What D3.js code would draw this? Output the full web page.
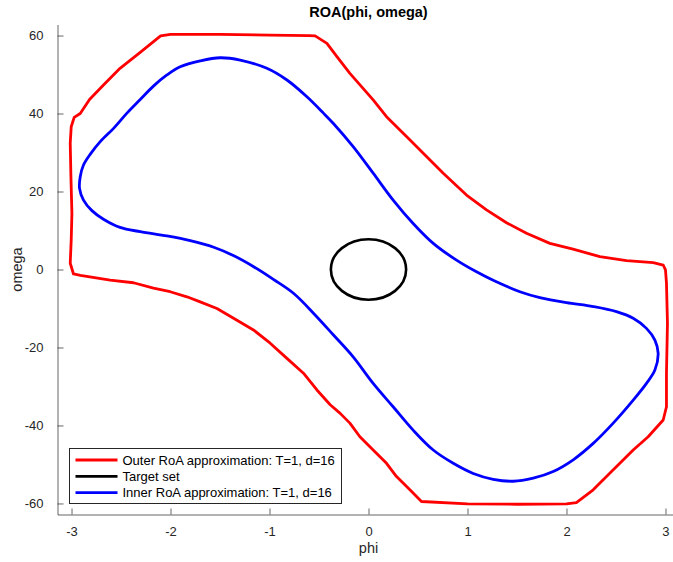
<!DOCTYPE html>
<html>
<head>
<meta charset="utf-8">
<script src="https://cdn.jsdelivr.net/npm/d3@7"></script>
<style>
  body { margin: 0; background: #fff; }
  text { font-family: "Liberation Sans", Arial, Helvetica, sans-serif; }
</style>
</head>
<body>
<script>
// values: [phi, omega]
const outerRoa = [
  [-2.10, 59.9], [-2.0, 60.3], [-1.5, 60.3], [-1.0, 60.1], [-0.6, 60.0], [-0.539, 59.9],
  [-0.42, 58.0], [-0.319, 54.6], [-0.188, 50.3], [0.047, 43.5], [0.182, 39.2], [0.384, 34.1],
  [0.553, 29.8], [0.755, 24.7], [0.99, 19.1], [1.192, 15.3], [1.394, 12.0], [1.596, 9.3],
  [1.832, 6.7], [2.066, 5.2], [2.337, 3.3], [2.606, 2.3], [2.876, 1.75], [2.977, 1.15],
  [3.0, -0.1], [3.01, -3.5], [3.02, -13.8], [3.01, -26.6], [3.01, -35.2], [2.977, -38.6],
  [2.825, -42.9], [2.674, -46.3], [2.47, -51.4], [2.27, -56.5], [2.10, -59.8], [2.0, -60.1],
  [1.5, -60.2], [1.0, -60.1], [0.535, -59.5], [0.418, -56.5], [0.283, -53.1], [0.182, -49.7],
  [0.047, -46.3], [-0.087, -42.9], [-0.188, -39.4], [-0.286, -36.9], [-0.387, -34.7],
  [-0.521, -30.9], [-0.657, -26.6], [-0.824, -22.8], [-0.993, -18.9], [-1.162, -15.5],
  [-1.363, -12.5], [-1.531, -10.0], [-1.700, -8.3], [-1.834, -7.0], [-2.003, -5.7],
  [-2.172, -4.8], [-2.374, -3.4], [-2.61, -2.7], [-2.91, -1.5], [-2.98, -1.15], [-3.013, 1.6],
  [-3.003, 7.6], [-2.996, 14.4], [-3.006, 23.8], [-3.013, 32.4], [-3.003, 36.6],
  [-2.973, 39.0], [-2.912, 40.0], [-2.818, 43.6], [-2.677, 47.3], [-2.51, 51.6], [-2.306, 55.7]
];

const innerRoa = [
  [-1.498, 54.3], [-1.296, 53.7], [-1.027, 51.6], [-0.824, 48.6], [-0.622, 44.3], [-0.455, 40.1],
  [-0.357, 37.5], [-0.155, 31.5], [0.047, 24.7], [0.249, 17.8], [0.451, 11.8], [0.654, 6.7],
  [0.889, 2.4], [1.091, -0.6], [1.27, -2.9], [1.529, -5.7], [1.731, -7.2], [2.0, -8.5],
  [2.27, -9.5], [2.505, -10.8], [2.674, -12.5], [2.808, -15.1], [2.893, -18.1], [2.926, -21.5],
  [2.893, -25.8], [2.808, -29.2], [2.674, -33.5], [2.472, -39.4], [2.27, -44.6], [2.068, -48.8],
  [1.866, -51.8], [1.664, -53.5], [1.462, -54.3], [1.26, -53.8], [1.058, -52.3], [0.856, -49.7],
  [0.654, -46.3], [0.451, -41.2], [0.249, -35.2], [0.047, -29.2], [-0.155, -22.4],
  [-0.354, -16.8], [-0.556, -11.2], [-0.758, -6.1], [-0.957, -2.6], [-1.16, 0.7], [-1.36, 3.5],
  [-1.563, 5.7], [-1.801, 7.4], [-2.036, 8.6], [-2.306, 9.7], [-2.51, 10.8], [-2.677, 12.9],
  [-2.794, 15.1], [-2.879, 17.8], [-2.919, 20.8], [-2.912, 23.8], [-2.879, 26.8], [-2.81, 29.6],
  [-2.71, 32.8], [-2.575, 36.2], [-2.44, 40.1], [-2.306, 43.6], [-2.17, 47.1], [-2.036, 49.9],
  [-1.902, 52.0], [-1.700, 53.5]
];

// target set: ellipse centred at the origin
const targetCenter = [0, 0],
      targetRadius = [0.38, 7.75];

const phiTicks = [-3, -2, -1, 0, 1, 2, 3],
      omegaTicks = [-60, -40, -20, 0, 20, 40, 60],
      legendLabels = ["Outer RoA approximation: T=1, d=16", "Target set", "Inner RoA approximation: T=1, d=16"],
      legendColors = ["#ff0000", "#000000", "#0000ff"];

const margin = {top: 24.5, left: 57.5},
      width = 622,
      height = 490,
      axisColor = "#262626",

      svg = d3.select("body")
      .append("svg")
      .attr("width", 673)
      .attr("height", 562),

      xScale = d3.scaleLinear().domain([-Math.PI, Math.PI]).range([margin.left, margin.left + width]),
      yScale = d3.scaleLinear().domain([-20 * Math.PI, 20 * Math.PI]).range([margin.top + height, margin.top]),

      // plain hyphen minus, like the original
      xAxis = d3.axisBottom(xScale)
      .tickValues(phiTicks)
      .tickFormat((d) => String(d))
      .tickSizeInner(-6)
      .tickSizeOuter(0)
      .tickPadding(12),

      yAxis = d3.axisLeft(yScale)
      .tickValues(omegaTicks)
      .tickFormat((d) => String(d))
      .tickSizeInner(-6)
      .tickSizeOuter(0)
      .tickPadding(14);

const line = d3.line()
  .x((d) => xScale(d[0]))
  .y((d) => yScale(d[1]));

svg.append("path")
  .datum(outerRoa)
  .attr("d", line.curve(d3.curveLinearClosed))
  .attr("fill", "none")
  .attr("stroke", legendColors[0])
  .attr("stroke-width", 2.8)
  .attr("stroke-linejoin", "round");

svg.append("ellipse")
  .attr("cx", xScale(targetCenter[0]))
  .attr("cy", yScale(targetCenter[1]))
  .attr("rx", xScale(targetRadius[0]) - xScale(0))
  .attr("ry", yScale(0) - yScale(targetRadius[1]))
  .attr("fill", "none")
  .attr("stroke", legendColors[1])
  .attr("stroke-width", 2.6);

svg.append("path")
  .datum(innerRoa)
  .attr("d", line.curve(d3.curveCatmullRomClosed))
  .attr("fill", "none")
  .attr("stroke", legendColors[2])
  .attr("stroke-width", 2.8);

const gx = svg.append("g")
  .attr("transform", "translate(0," + (margin.top + height) + ")")
  .call(xAxis);

const gy = svg.append("g")
  .attr("transform", "translate(" + margin.left + ",0)")
  .call(yAxis);

[gx, gy].forEach((g) => {
  g.select(".domain").attr("stroke", axisColor).attr("stroke-opacity", 0.7);
  g.selectAll(".tick line").attr("stroke", axisColor).attr("stroke-opacity", 0.7);
  g.selectAll(".tick text")
    .attr("fill", axisColor)
    .style("font-size", "13px")
    .style("font-family", "'Liberation Sans', Arial, sans-serif");
});

// title and labels
svg.append("text")
  .attr("x", xScale(0))
  .attr("y", 17)
  .attr("text-anchor", "middle")
  .style("font-size", "14.5px")
  .style("font-weight", "bold")
  .attr("fill", "#000")
  .text("ROA(phi, omega)");

svg.append("text")
  .attr("x", xScale(0))
  .attr("y", 553)
  .attr("text-anchor", "middle")
  .style("font-size", "14.5px")
  .attr("fill", axisColor)
  .text("phi");

svg.append("text")
  .attr("transform", "translate(22," + yScale(0) + ") rotate(-90)")
  .attr("text-anchor", "middle")
  .style("font-size", "14.5px")
  .attr("fill", axisColor)
  .text("omega");

// legend
const legend = svg.append("g").attr("transform", "translate(69.5,448.5)");

legend.append("rect")
  .attr("width", 272)
  .attr("height", 55)
  .attr("fill", "#fff")
  .attr("stroke", axisColor)
  .attr("stroke-width", 1);

legendLabels.forEach((label, i) => {
  const y = 11.5 + i * 16.3;
  legend.append("line")
    .attr("x1", 6)
    .attr("x2", 48)
    .attr("y1", y)
    .attr("y2", y)
    .attr("stroke", legendColors[i])
    .attr("stroke-width", 2.8);
  legend.append("text")
    .attr("x", 53)
    .attr("y", y + 4.6)
    .style("font-size", "13px")
    .attr("fill", "#000")
    .text(label);
});
</script>
</body>
</html>
